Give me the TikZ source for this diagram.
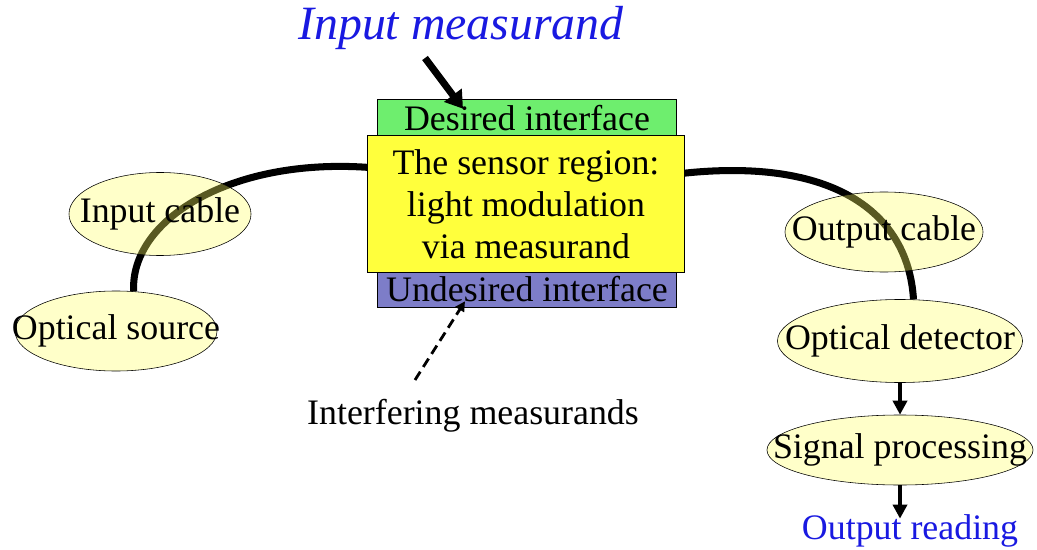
\documentclass[tikz,border=0pt]{standalone}
\usepackage{fontspec}
\setmainfont{Liberation Serif}
\usetikzlibrary{shapes.geometric,arrows.meta,backgrounds}

\definecolor{ovalfill}{RGB}{255,255,100}
\definecolor{desiredgreen}{RGB}{110,238,110}
\definecolor{undesiredblue}{RGB}{125,125,200}
\definecolor{regionyellow}{RGB}{255,255,60}
\definecolor{labelblue}{RGB}{25,25,225}

\tikzset{
    oval/.style={ellipse,draw=black,thin,fill=ovalfill,fill opacity=0.35,text opacity=1,inner sep=0pt},
    box/.style={rectangle,draw=black,thin,inner sep=0pt},
    label/.style={inner sep=1pt},
    cable/.style={line width=5pt,black},
    flowarrow/.style={line width=2.5pt,-{Triangle[length=10pt,width=10pt]}},
}

\begin{document}
\begin{tikzpicture}[x=0.025cm,y=-0.025cm,font=\fontsize{25.5}{30}\selectfont]
    \useasboundingbox (0,0) rectangle (1037,550);
    % sensor head
    \node[box,fill=desiredgreen,minimum width=7.475cm,minimum height=0.95cm] at (527,118) (desired) {Desired interface};
    \node[box,fill=undesiredblue,minimum width=7.475cm,minimum height=0.9cm] at (527,289) (undesired) {Undesired interface};
    \node[box,fill=regionyellow,minimum width=7.925cm,minimum height=3.425cm,align=center] at (526,204) (region) {The sensor region:\\ light modulation\\ via measurand};
    %\node[box,fill=yellow] at (526,203) (region) {};
    % ovals
    \node[oval,minimum width=4.55cm,minimum height=2.075cm] at (160,214) (incable) {\makebox[0pt]{Input cable}};
    \node[oval,minimum width=5.05cm,minimum height=2cm] at (116,331) (source) {\makebox[0pt]{Optical source}};
    \node[oval,minimum width=4.95cm,minimum height=2cm] at (884,232) (outcable) {\makebox[0pt]{Output cable}};
    \node[oval,minimum width=6.125cm,minimum height=2.075cm] at (900,341) (detector) {\makebox[0pt]{Optical detector}};
    \node[oval,minimum width=6.65cm,minimum height=1.75cm] at (900,450) (processing) {\makebox[0pt]{Signal processing}};
    % texts
    \node[label,text=labelblue,font=\fontsize{34}{40}\selectfont\itshape] at (461,28) (measurand) {Input measurand};
    \node[label] at (473,416) (interfering) {Interfering measurands};
    \node[label,text=labelblue] at (910,531) (reading) {Output reading};
    \coordinate (intail) at (425,58);
    \coordinate (dashtail) at (415,380);
    % fibres
    \begin{scope}[on background layer]
        \draw[cable] (region.167) .. controls (230,158) and (130,220) .. (source.66);
        \draw[cable] (region.11) .. controls (830,158) and (908,210) .. (detector.72);
    \end{scope}
    % arrows
    \draw[line width=5pt,-{Triangle[length=12pt,width=15pt]}] (intail) -- ([xshift=-1.6cm,yshift=-0.25cm]desired.north);
    \draw[line width=2pt,dash pattern=on 7pt off 4pt,-{Triangle[length=7pt,width=7pt]}] (dashtail) -- ([xshift=-1.55cm,yshift=0.15cm]undesired.south);
    \draw[flowarrow] (detector.south) -- (processing.north);
    \draw[flowarrow,shorten >=-4pt] (processing.south) -- (reading.north -| processing.south);
\end{tikzpicture}
\end{document}
